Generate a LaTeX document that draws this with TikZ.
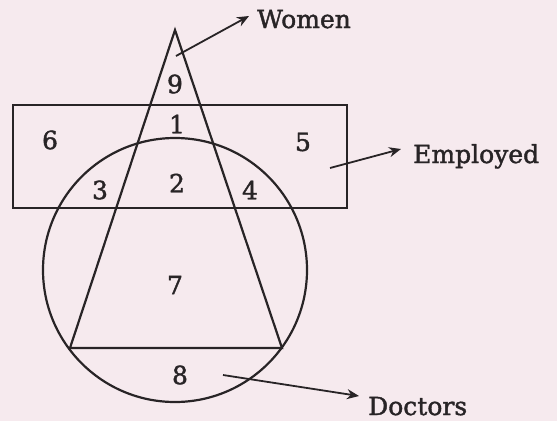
\documentclass[tikz,border=0pt]{standalone}
\usepackage{fontspec}
\setmainfont{DejaVu Serif}
\newfontfamily\lblfont[FakeBold=1.6]{DejaVu Serif}
\usetikzlibrary{arrows.meta}
\definecolor{pinkbg}{RGB}{246,234,238}
\definecolor{ink}{RGB}{40,36,38}
\begin{document}
\begin{tikzpicture}[x=1pt,y=-1pt,
  outline/.style={draw=ink, line width=2.2pt},
  lbl/.style={font=\lblfont\fontsize{25}{25}\selectfont, text=ink, inner sep=0pt},
  arr/.style={draw=ink, line width=1.8pt, -{Stealth[length=12pt,width=10pt]}}]
\fill[pinkbg] (0,0) rectangle (557,421);
\useasboundingbox (0,0) rectangle (557,421);
% shapes
\draw[outline] (13,105) rectangle (347,208);
\draw[outline] (175,270) circle[radius=132pt];
\draw[outline, line join=miter] (175,30) -- (70,348) -- (282,348) -- cycle;
% region labels
\node[lbl] (n9) at (175,84) {9};
\node[lbl] (n1) at (177,124) {1};
\node[lbl] (n6) at (50,140) {6};
\node[lbl] (n5) at (303,142) {5};
\node[lbl] (n3) at (100,190) {3};
\node[lbl] (n2) at (177,183) {2};
\node[lbl] (n4) at (250,190) {4};
\node[lbl] (n7) at (175,285) {7};
\node[lbl] (n8) at (180,375) {8};
% set names
\node[lbl, anchor=base west] (women) at (257,28) {Women};
\node[lbl, anchor=base west] (employed) at (413,163) {Employed};
\node[lbl, anchor=base west] (doctors) at (368,415) {Doctors};
% pointers
\coordinate (wa) at (176,56);
\coordinate (ea) at (330,168);
\coordinate (da) at (223,375);
\draw[arr] (wa) -- ([xshift=-8pt,yshift=12pt]women.base west);
\draw[arr] (ea) -- ([xshift=-12pt,yshift=14pt]employed.base west);
\draw[arr] (da) -- ([xshift=-9pt,yshift=19pt]doctors.base west);
\end{tikzpicture}
\end{document}
